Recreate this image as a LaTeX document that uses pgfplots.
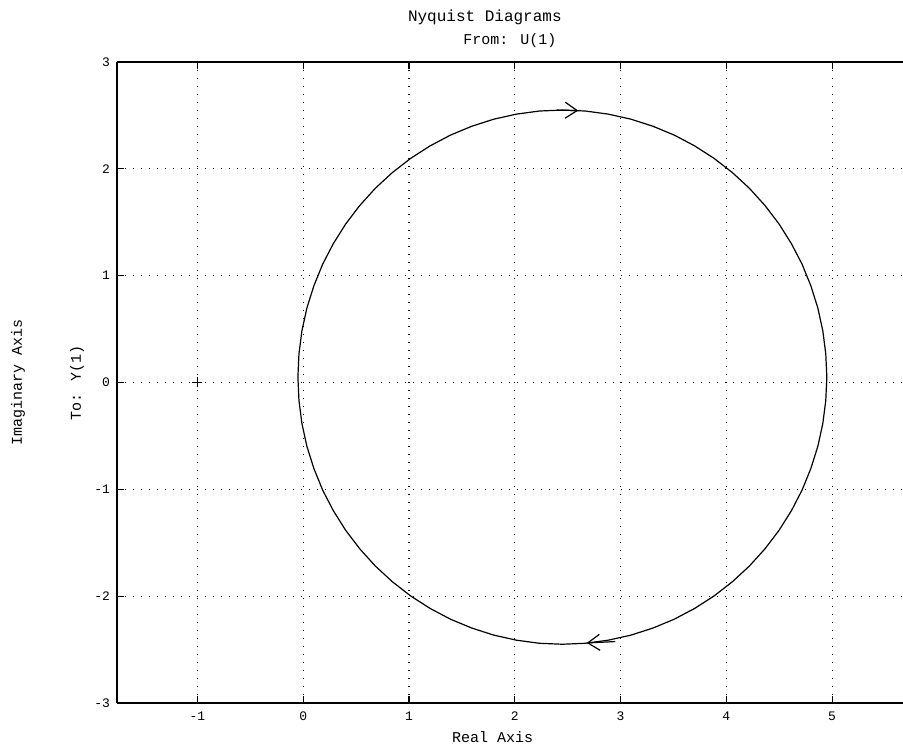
\documentclass[border=0pt]{standalone}
\usepackage{fontspec}
\setmainfont{Liberation Mono}
\usepackage{pgfplots}
\pgfplotsset{compat=1.18}
\usetikzlibrary{arrows.meta}
\begin{document}
\begin{tikzpicture}
\useasboundingbox (-58.5pt,-20pt) rectangle (393pt,351.5pt);
\begin{axis}[
  at={(0,0)}, anchor=south west,
  scale only axis,
  width=393pt, height=320.5pt,
  xmin=-1.76, xmax=5.67, ymin=-3, ymax=3,
  separate axis lines,
  axis x line=box, axis y line=left,
  axis line style={-, line width=0.9pt},
  xtick={-1,0,1,2,3,4,5}, ytick={-3,-2,-1,0,1,2,3},
  tick align=inside, major tick length=3.5pt,
  tick style={black, line width=0.6pt},
  grid=major, major grid style={black, line width=0.6pt, dash pattern=on 0.6pt off 3.4pt},
  /pgf/number format/assume math mode=true,
  ticklabel style={font=\fontsize{6.5}{7.5}\selectfont},
  xticklabel style={yshift=-1pt},
  clip=false,
]
\addplot[black, line width=0.6pt] coordinates {
(4.95,0.05) (4.940,0.268) (4.912,0.484) (4.865,0.697) (4.799,0.905) (4.716,1.107)
(4.615,1.3) (4.498,1.484) (4.365,1.657) (4.218,1.818) (4.057,1.965) (3.884,2.098)
(3.7,2.215) (3.507,2.316) (3.305,2.399) (3.097,2.465) (2.884,2.512) (2.668,2.541)
(2.45,2.55) (2.232,2.541) (2.016,2.512) (1.803,2.465) (1.595,2.399) (1.393,2.316)
(1.2,2.215) (1.016,2.098) (0.843,1.965) (0.682,1.818) (0.535,1.657) (0.402,1.484)
(0.285,1.3) (0.184,1.107) (0.101,0.905) (0.035,0.697) (-0.012,0.484) (-0.040,0.268)
(-0.05,0.05) (-0.040,-0.168) (-0.012,-0.384) (0.035,-0.597) (0.101,-0.805) (0.184,-1.007)
(0.285,-1.2) (0.402,-1.384) (0.535,-1.557) (0.682,-1.718) (0.843,-1.865) (1.016,-1.998)
(1.2,-2.115) (1.393,-2.216) (1.595,-2.299) (1.803,-2.365) (2.016,-2.412) (2.232,-2.441)
(2.45,-2.45) (2.668,-2.441) (2.884,-2.412) (3.097,-2.365) (3.305,-2.299) (3.507,-2.216)
(3.7,-2.115) (3.884,-1.998) (4.057,-1.865) (4.218,-1.718) (4.365,-1.557) (4.498,-1.384)
(4.615,-1.2) (4.716,-1.007) (4.799,-0.805) (4.865,-0.597) (4.912,-0.384) (4.940,-0.168)
(4.95,0.05)
};
\addplot[black, line width=0.6pt, -{Straight Barb[length=6pt,width=8pt,line width=0.6pt]}] coordinates {(2.40,2.55) (2.60,2.545)};
\addplot[black, line width=0.6pt, -{Straight Barb[length=6pt,width=8pt,line width=0.6pt]}] coordinates {(2.95,-2.425) (2.68,-2.438)};
\addplot[black, only marks, mark=+, mark size=2.5pt, mark options={line width=0.7pt}] coordinates {(-1,0)};
\node[font=\fontsize{8}{9}\selectfont] at (rel axis cs:0.468,1.069) {Nyquist Diagrams};
\node[font=\fontsize{7.5}{9}\selectfont] at (rel axis cs:0.5,1.034) {From: U(1)};
\node[font=\fontsize{7.5}{9}\selectfont] at (rel axis cs:0.478,-0.053) {Real Axis};
\node[font=\fontsize{7.5}{9}\selectfont, rotate=90] at (rel axis cs:-0.126,0.5) {Imaginary Axis};
\node[font=\fontsize{7.5}{9}\selectfont, rotate=90] at (rel axis cs:-0.051,0.5) {To: Y(1)};
\end{axis}
\end{tikzpicture}
\end{document}
